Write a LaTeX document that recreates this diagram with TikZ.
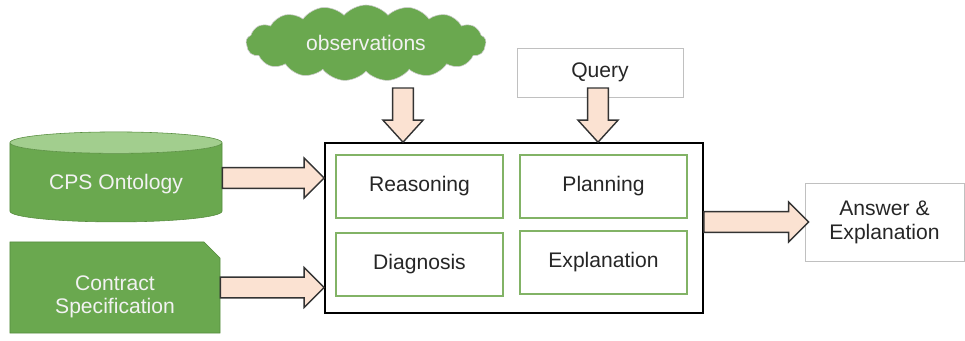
\documentclass[tikz,border=0pt]{standalone}
\usepackage{fontspec}
\setmainfont{Liberation Sans}
\usepackage{xcolor}
\usetikzlibrary{shapes.geometric, shapes.misc, shapes.symbols, calc}
\definecolor{leafgreen}{RGB}{106, 168, 79}
\definecolor{leaftop}{RGB}{162, 206, 142}
\definecolor{leafline}{RGB}{86, 140, 62}
\definecolor{boxgreen}{RGB}{130, 179, 102}
\definecolor{peach}{RGB}{251, 226, 210}
\definecolor{softgray}{RGB}{192, 192, 192}

\tikzset{
  labelfont/.style={font=\fontsize{15}{17}\selectfont},
  module/.style={draw=boxgreen, line width=0.9pt, minimum width=4.175cm,
                 minimum height=1.575cm, text=black!85, labelfont},
  plainbox/.style={draw=softgray, line width=0.6pt, text=black!85,
                   align=center, labelfont},
  harrow/.style={draw=black!80, line width=1pt, fill=peach, line join=miter,
    to path={let \p1=(\tikztostart), \p2=(\tikztotarget) in
      (\x1,\y1+2.6mm) -- (\x2-5mm,\y1+2.6mm) -- (\x2-5mm,\y1+5mm) -- (\x2,\y1)
      -- (\x2-5mm,\y1-5mm) -- (\x2-5mm,\y1-2.6mm) -- (\x1,\y1-2.6mm) -- cycle}},
  varrow/.style={draw=black!80, line width=1pt, fill=peach, line join=miter,
    to path={let \p1=(\tikztostart), \p2=(\tikztotarget) in
      (\x1-2.6mm,\y1) -- (\x1-2.6mm,\y2+5.5mm) -- (\x1-5mm,\y2+5.5mm) -- (\x1,\y2)
      -- (\x1+5mm,\y2+5.5mm) -- (\x1+2.6mm,\y2+5.5mm) -- (\x1+2.6mm,\y1) -- cycle}}
}

\begin{document}
\begin{tikzpicture}[x=0.025cm, y=-0.025cm]
\useasboundingbox (0,0) rectangle (965,341);

% Inputs on the left
\node[cylinder, shape border rotate=90, aspect=0.15, minimum width=5.3cm,
      minimum height=2.25cm, draw=leafline, cylinder uses custom fill,
      cylinder body fill=leafgreen, cylinder end fill=leaftop,
      text=white!95!black, labelfont] (cps) at (116, 184) {CPS Ontology};
\node[chamfered rectangle, chamfered rectangle corners=north east,
      chamfered rectangle xsep=0.2cm, chamfered rectangle ysep=0.2cm,
      minimum width=5.25cm, minimum height=2.275cm, inner sep=0pt,
      draw=leafline, fill=leafgreen, text=white!95!black,
      text height=34pt, text depth=13pt, labelfont] (spec) at (115, 287.5)
      {\begin{tabular}{@{}c@{}}Contract\\Specification\end{tabular}};

% Inputs on top
\node[cloud, cloud puffs=17, cloud puff arc=100, aspect=3.2, minimum width=6cm,
      minimum height=1.9cm, draw=white!80!black, fill=leafgreen,
      text=white!95!black, labelfont] (obs) at (366, 43) {observations};
\node[plainbox, minimum width=4.15cm, minimum height=1.225cm] (query)
      at (600, 72.5) {Query};

% Reasoning engine
\node[draw=black, line width=1.1pt, minimum width=9.45cm, minimum height=4.25cm]
      (main) at (514, 228) {};
\node[module] (reas) at (419.5, 186.5) {Reasoning};
\node[module] (plan) at (603.5, 186.5) {Planning};
\node[module] (diag) at (419.5, 264.5) {Diagnosis};
\node[module] (expl) at (603.5, 262.5) {Explanation};

% Output
\node[plainbox, minimum width=3.975cm, minimum height=1.95cm] (ans)
      at (884.5, 222) {Answer \&\\Explanation};

% Block arrows
\coordinate (cpsout) at ($(cps.east)+(0,-6)$);
\coordinate (obsfoot) at (403, 88);
\coordinate (queryfoot) at (598, 88);
\draw[harrow] (cpsout) to (cpsout -| main.west);
\draw[harrow] (spec.east) to (spec.east -| main.west);
\draw[varrow] (obsfoot) to (obsfoot |- main.north);
\draw[varrow] (queryfoot) to (queryfoot |- main.north);
\draw[harrow] (main.east |- ans.west) to ($(ans.west)+(4,0)$);

\end{tikzpicture}
\end{document}
